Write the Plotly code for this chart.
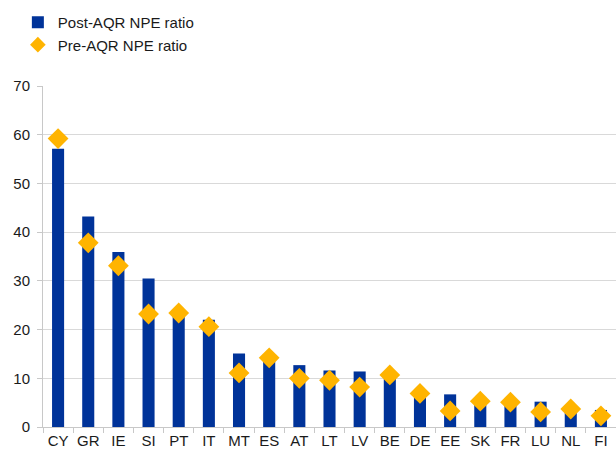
import plotly.graph_objects as go

countries = ["CY", "GR", "IE", "SI", "PT", "IT", "MT", "ES", "AT", "LT",
             "LV", "BE", "DE", "EE", "SK", "FR", "LU", "NL", "FI"]
post_aqr = [57.1, 43.2, 35.9, 30.5, 22.8, 22.0, 15.1, 13.5, 12.7, 11.6,
            11.4, 10.3, 6.4, 6.7, 5.0, 4.6, 5.2, 3.4, 3.5]
pre_aqr = [59.2, 37.8, 33.1, 23.2, 23.4, 20.6, 11.1, 14.2, 10.0, 9.6,
           8.2, 10.7, 6.9, 3.3, 5.3, 5.1, 3.1, 3.7, 2.3]
y_ticks = [0, 10, 20, 30, 40, 50, 60, 70]

FONT = "Liberation Sans, Arial, sans-serif"

fig = go.Figure()
fig.add_trace(go.Bar(
    x=countries, y=post_aqr, name="Post-AQR NPE ratio",
    marker=dict(color="#003399", line=dict(width=0)),
    width=0.4,
))
fig.add_trace(go.Scatter(
    x=countries, y=pre_aqr, name="Pre-AQR NPE ratio",
    mode="markers",
    marker=dict(symbol="diamond", size=16, color="#FFB400", line=dict(width=0)),
))

fig.update_layout(
    width=616, height=454,
    margin=dict(l=43, r=0, t=86, b=27, autoexpand=False),
    paper_bgcolor="white", plot_bgcolor="white",
    font=dict(family=FONT, size=15, color="#1a1a1a"),
    showlegend=True,
    legend=dict(
        x=0.029, y=0.987, xref="container", yref="container", xanchor="left", yanchor="top",
        font=dict(size=15, family=FONT, color="#1a1a1a"),
        itemsizing="constant", tracegroupgap=0, itemwidth=30,
        bgcolor="rgba(0,0,0,0)",
    ),
    bargap=0.6,
)
fig.update_xaxes(
    type="category", automargin=False, tickangle=0, range=[-0.5, len(countries) - 0.5],
    showline=True, linecolor="#c8c8c8", linewidth=1,
    ticks="outside", tickson="boundaries", ticklen=5, tickcolor="#c8c8c8",
    showgrid=False,
    tickfont=dict(size=15, family=FONT, color="#1a1a1a"),
)
fig.update_yaxes(
    range=[0, 70], tickvals=y_ticks, automargin=False,
    showline=True, linecolor="#c8c8c8", linewidth=1,
    ticks="outside", ticklen=5, tickcolor="#c8c8c8", ticklabelstandoff=4,
    showgrid=True, gridcolor="#d9d9d9", gridwidth=1,
    zeroline=False,
    tickfont=dict(size=15, family=FONT, color="#1a1a1a"),
)

fig.write_html("out.html", config={"displayModeBar": False},
               post_script="document.body.style.margin='0';")
